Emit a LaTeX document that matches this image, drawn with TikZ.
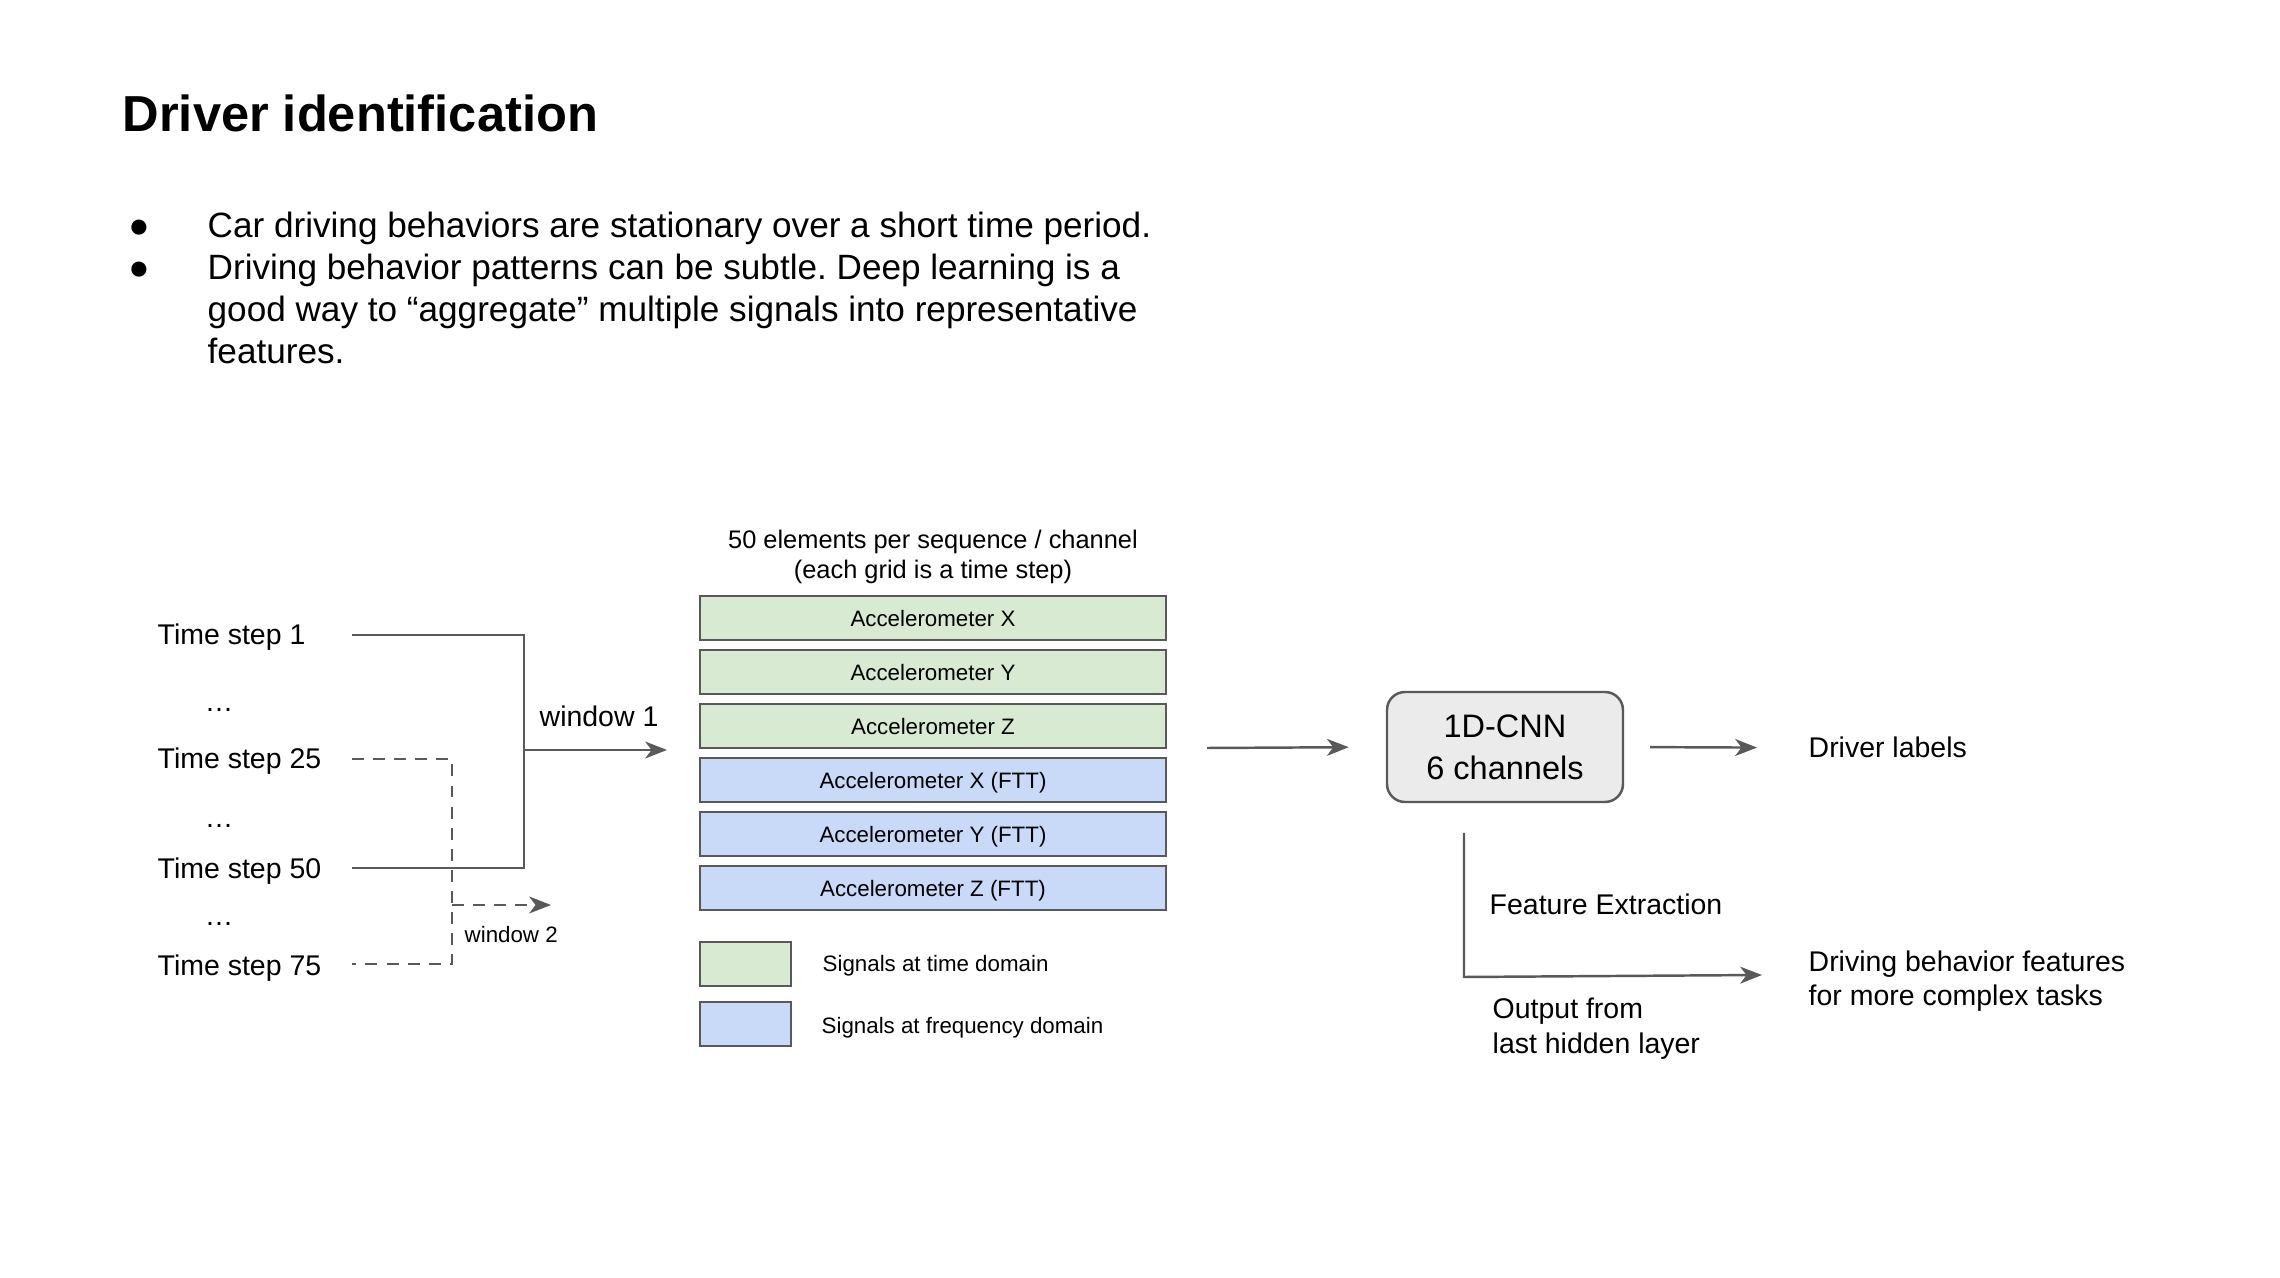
\documentclass[tikz,border=0pt]{standalone}
\usepackage{fontspec}
\setmainfont{Liberation Sans}
\usetikzlibrary{arrows.meta}
\definecolor{linegray}{HTML}{595959}
\definecolor{boxgreen}{HTML}{D9EAD3}
\definecolor{boxblue}{HTML}{C9DAF8}
\definecolor{cnngray}{HTML}{EBEBEB}
\frenchspacing
\begin{document}
\begin{tikzpicture}[x=0.1mm,y=-0.1mm,
  lbl/.style={inner sep=0pt, anchor=base west, font=\fontsize{8.1}{9.7}\selectfont},
  smalltxt/.style={inner sep=0pt, font=\fontsize{6.35}{7.6}\selectfont},
  btxt/.style={inner sep=0pt, anchor=base west, font=\fontsize{10}{12}\selectfont},
  bul/.style={inner sep=0pt, anchor=base, font=\fontsize{10}{12}\selectfont},
  chan/.style={draw=linegray, line width=0.6pt, minimum width=46.6mm, minimum height=4.4mm,
    inner sep=0pt, font=\fontsize{6.35}{7.6}\selectfont, text height=4.6pt, text depth=0pt},
  leg/.style={draw=linegray, line width=0.6pt, minimum width=9.1mm, minimum height=4.4mm, inner sep=0pt},
  tdom/.style={fill=boxgreen}, fdom/.style={fill=boxblue},
  conn/.style={draw=linegray, line width=0.7pt},
  arr/.style={conn, -{Stealth[length=6.2pt,width=4.8pt,inset=1.8pt]}},
  dashline/.style={dash pattern=on 3.4pt off 2.6pt}
]
\path[use as bounding box, fill=white] (0,0) rectangle (2280,1278);

% title and bullets
\node[anchor=base west, inner sep=0pt, font=\fontsize{14.4}{17}\selectfont\bfseries] (title) at (122,132) {Driver identification};
\node[bul] (b1) at (139,238) {●};
\node[btxt] (l1) at (207,238) {Car driving behaviors are stationary over a short time period.};
\node[bul] (b2) at (139,280) {●};
\node[btxt] (l2) at (207,280) {Driving behavior patterns can be subtle. Deep learning is a};
\node[btxt] (l3) at (207,322) {good way to “aggregate” multiple signals into representative};
\node[btxt] (l4) at (207,364) {features.};

% time steps
\node[lbl] (ts1) at (157,645) {Time step 1};
\node[lbl, anchor=base] (d1) at (219,712) {…};
\node[lbl] (ts25) at (157,769) {Time step 25};
\node[lbl, anchor=base] (d2) at (219,828) {…};
\node[lbl] (ts50) at (157,879) {Time step 50};
\node[lbl, anchor=base] (d3) at (219,926) {…};
\node[lbl] (ts75) at (157,976) {Time step 75};

% window 1
\coordinate (w1s) at (352,635);
\coordinate (w1top) at (524,635);
\coordinate (w1bot) at (524,868);
\coordinate (w1e) at (352,868);
\coordinate (w1mid) at (524,750);
\coordinate (w1tip) at (667,750);
\draw[conn] (w1s) -- (w1top) -- (w1bot) -- (w1e);
\draw[arr] (w1mid) -- (w1tip);
\node[lbl] (w1) at (539,727) {window 1};

% window 2
\coordinate (w2s) at (352,759);
\coordinate (w2top) at (452,759);
\coordinate (w2bot) at (452,964);
\coordinate (w2e) at (352,964);
\coordinate (w2mid) at (452,905);
\coordinate (w2tip) at (551,905);
\draw[conn, dashline] (w2s) -- (w2top) -- (w2bot) -- (w2e);
\draw[arr, dashline] (w2mid) -- (w2tip);
\node[smalltxt, anchor=base west] (w2) at (464,943) {window 2};

% channels
\node[align=center, inner sep=0pt, font=\fontsize{7.23}{8.54}\selectfont] (head) at (933,557)
  {50 elements per sequence / channel\\(each grid is a time step)};
\node[chan, tdom] (ax) at (933,618) {Accelerometer X};
\node[chan, tdom] (ay) at (933,672) {Accelerometer Y};
\node[chan, tdom] (az) at (933,726) {Accelerometer Z};
\node[chan, fdom] (fx) at (933,780) {Accelerometer X (FTT)};
\node[chan, fdom] (fy) at (933,834) {Accelerometer Y (FTT)};
\node[chan, fdom] (fz) at (933,888) {Accelerometer Z (FTT)};

% legend
\node[leg, tdom] (lg1) at (745.5,964) {};
\node[leg, fdom] (lg2) at (745.5,1024) {};
\node[smalltxt, anchor=base west] (lt1) at (822,971) {Signals at time domain};
\node[smalltxt, anchor=base west] (lt2) at (821,1033) {Signals at frequency domain};

% CNN
\node[draw=linegray, line width=0.7pt, fill=cnngray, rounded corners=1.8mm,
  minimum width=23.6mm, minimum height=11mm, inner sep=0pt, align=center,
  font=\fontsize{9.25}{11.95}\selectfont] (cnn) at (1505,747) {1D-CNN\\6 channels};
\coordinate (cin) at (1207,748);
\draw[arr, shorten >=3.7mm] (cin) -- (cnn.west);

\node[lbl] (dl) at (1808,758) {Driver labels};
\draw[arr, shorten <=2.6mm, shorten >=5.1mm] (cnn.east) -- (dl.west);

% feature extraction
\coordinate (fe1) at (1464,833);
\coordinate (fe2) at (1464,977);
\coordinate (fe3) at (1762,975);
\draw[arr] (fe1) -- (fe2) -- (fe3);
\node[lbl] (fe) at (1489,915) {Feature Extraction};
\node[lbl, anchor=west, align=left, font=\fontsize{8.1}{9.96}\selectfont] (out) at (1492,1029) {Output from\\last hidden layer};
\node[lbl, anchor=west, align=left, font=\fontsize{8.1}{9.53}\selectfont] (dbf) at (1808,981) {Driving behavior features\\for more complex tasks};
\end{tikzpicture}
\end{document}
